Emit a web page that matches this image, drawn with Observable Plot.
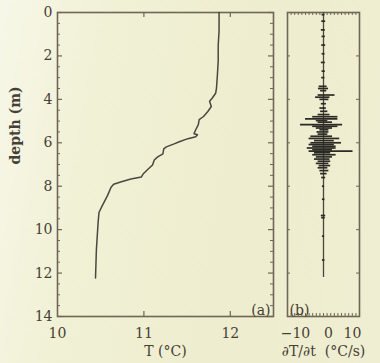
<!DOCTYPE html>
<html><head><meta charset="utf-8">
<script src="https://cdn.jsdelivr.net/npm/d3@7"></script>
<script src="https://cdn.jsdelivr.net/npm/@observablehq/plot@0.6"></script>
<style>
html,body{margin:0;padding:0;background:#f0efd2;}
#wrap{position:relative;width:380px;height:363px;overflow:hidden;
 background:linear-gradient(100deg,#f7f7e8 0%,#f1f1d6 25%,#eeedcf 60%,#efeed2 100%);}
#wrap svg{position:absolute;left:0;top:0;}
</style></head><body><div id="wrap"></div>
<script>
// Panel (a): temperature profile
const tempDepth = [0, 0.84, 1.53, 2.23, 2.93, 3.49, 3.72, 3.95, 4.09, 4.33, 4.56, 4.79, 4.93, 5.16, 5.40, 5.58, 5.63, 5.72, 5.81, 5.95, 6.05, 6.19, 6.28, 6.51, 6.65, 6.79, 7.02, 7.21, 7.44, 7.58, 7.67, 7.81, 7.91, 8.05, 8.42, 8.88, 9.21, 9.67, 10.93, 12.23];
const tempValue = [11.87, 11.87, 11.86, 11.86, 11.85, 11.84, 11.83, 11.79, 11.76, 11.78, 11.74, 11.69, 11.64, 11.63, 11.60, 11.58, 11.62, 11.60, 11.51, 11.41, 11.35, 11.26, 11.23, 11.22, 11.16, 11.12, 11.10, 11.05, 10.99, 10.97, 10.85, 10.73, 10.65, 10.62, 10.58, 10.52, 10.48, 10.47, 10.45, 10.44];

// Panel (b): dT/dt excursions (min / max at each depth)
const rateDepth = [0, 0.1, 0.4, 0.8, 1.1, 1.5, 1.9, 2.3, 2.7, 3.0, 3.4, 3.5, 3.6, 3.8, 3.9, 4.0, 4.2, 4.4, 4.55, 4.7, 4.8, 4.9, 4.98, 5.05, 5.16, 5.24, 5.32, 5.4, 5.5, 5.6, 5.7, 5.8, 5.9, 6.0, 6.08, 6.16, 6.24, 6.32, 6.38, 6.46, 6.55, 6.65, 6.75, 6.85, 6.95, 7.05, 7.15, 7.28, 7.42, 7.6, 8.0, 8.6, 9.35, 9.45, 10.3, 11.4, 12.2];
const rateLow  = [0, -0.4, -0.5, -0.6, -0.4, -0.5, -0.4, -0.6, -0.4, -0.5, -1.2, -1.4, -0.8, -1.5, -2.2, -1.0, -0.6, -1.0, -0.8, -1.5, -3.0, -5.0, -2.0, -1.5, -6.4, -3.0, -2.0, -1.0, -1.8, -1.5, -3.5, -4.0, -2.5, -3.5, -4.0, -3.0, -4.5, -3.0, -4.0, -2.5, -3.0, -2.0, -2.5, -1.5, -2.0, -1.2, -1.5, -1.0, -0.8, -0.5, -0.3, -0.3, -0.6, -0.5, -0.3, -0.3, 0];
const rateHigh = [0, 0.4, 0.6, 0.5, 0.5, 0.6, 0.4, 0.5, 0.5, 0.4, 1.0, 1.4, 0.9, 3.2, 1.8, 1.5, 0.8, 0.8, 1.2, 1.8, 4.0, 4.0, 1.2, 2.5, 5.3, 4.0, 2.5, 1.5, 1.5, 1.2, 2.5, 4.5, 3.0, 5.0, 3.0, 3.5, 3.5, 2.5, 8.2, 2.0, 3.5, 2.5, 1.8, 2.0, 1.5, 2.0, 1.2, 1.5, 1.0, 0.6, 0.3, 0.4, 0.6, 0.5, 0.3, 0.4, 0];

// ticks
const depthTicks = [0, 2, 4, 6, 8, 10, 12, 14];
const depthMinor = [0.5, 1, 1.5, 2.5, 3, 3.5, 4.5, 5, 5.5, 6.5, 7, 7.5, 8.5, 9, 9.5, 10.5, 11, 11.5, 12.5, 13, 13.5];
const tempTicks = [10, 11, 12];
const tempInnerTicks = [11, 12];
const rateTicks = [-10, 0, 10];
const rateMinor = [-9, -8, -7, -6, -5, -4, -3, -2, -1, 0, 1, 2, 3, 4, 5, 6, 7, 8, 9];

const W = 380, H = 363;
const ink = "#463f35", axisInk = "#6e6656", lineInk = "#4a473e", spikeInk = "#2b2a24";
const font = "DejaVu Serif";
const base = {
  width: W, height: H, marginTop: 12, marginBottom: 47,
  style: {background: "transparent", fontFamily: font, fontSize: "14px", color: ink, overflow: "visible"}
};

const temp = tempDepth.map((d, i) => ({d, t: tempValue[i]}));
const rate = rateDepth.map((d, i) => ({d, lo: rateLow[i], hi: rateHigh[i]}));

const frameW_a = W - 57 - 107, frameH = H - 12 - 47;
const a = Plot.plot({
  ...base, marginLeft: 57, marginRight: 107,
  x: {domain: [10, 12.5], axis: null},
  y: {domain: [0, 14], reverse: true, axis: null},
  marks: [
    Plot.tickY(depthMinor, {insetRight: frameW_a - 3, stroke: axisInk, strokeWidth: 1}),
    Plot.tickY(depthTicks, {insetRight: frameW_a - 5, stroke: axisInk, strokeWidth: 1.2}),
    Plot.tickY(depthMinor, {insetLeft: frameW_a - 3, stroke: axisInk, strokeWidth: 1}),
    Plot.tickY(depthTicks, {insetLeft: frameW_a - 5, stroke: axisInk, strokeWidth: 1.2}),
    Plot.tickX(tempInnerTicks, {insetBottom: frameH - 5, stroke: axisInk, strokeWidth: 1.2}),
    Plot.tickX(tempInnerTicks, {insetTop: frameH - 5, stroke: axisInk, strokeWidth: 1.2}),
    Plot.frame({stroke: axisInk, strokeWidth: 1.6}),
    Plot.axisY(depthTicks, {anchor: "left", tickSize: 0, tickPadding: 5, label: null, fontSize: 14}),
    Plot.axisX(tempTicks, {anchor: "bottom", tickSize: 0, tickPadding: 12, label: null, fontSize: 14}),
    Plot.line(temp, {x: "t", y: "d", stroke: lineInk, strokeWidth: 1.5}),
    Plot.text(["depth (m)"], {frameAnchor: "left", dx: -42, rotate: -90, fontWeight: "bold", fontSize: 14, fill: ink}),
    Plot.text(["T (°C)"], {frameAnchor: "bottom", dy: 39, fontSize: 14, fill: ink}),
    Plot.text(["(a)"], {frameAnchor: "bottom-right", dx: -3, dy: -2, textAnchor: "end", lineAnchor: "bottom", fontSize: 14, fill: ink})
  ]
});

const frameW_b = W - 287 - 21;
const b = Plot.plot({
  ...base, marginLeft: 287, marginRight: 21,
  x: {domain: [-10, 10], axis: null},
  y: {domain: [0, 14], reverse: true, axis: null},
  marks: [
    Plot.tickY(depthTicks, {insetRight: frameW_b - 3, stroke: axisInk, strokeWidth: 1}),
    Plot.tickY(depthTicks, {insetLeft: frameW_b - 3, stroke: axisInk, strokeWidth: 1}),
    Plot.tickX(rateMinor, {insetBottom: frameH - 3, stroke: axisInk, strokeWidth: 1}),
    Plot.tickX(rateMinor, {insetTop: frameH - 3, stroke: axisInk, strokeWidth: 1}),
    Plot.frame({stroke: axisInk, strokeWidth: 1.6}),
    Plot.axisX([rateTicks[0]], {anchor: "bottom", tickSize: 0, tickPadding: 12, label: null, dx: 8, fontSize: 14, tickFormat: d => "−" + Math.abs(d)}),
    Plot.axisX([rateTicks[1]], {anchor: "bottom", tickSize: 0, tickPadding: 12, label: null, dx: 5, fontSize: 14}),
    Plot.axisX([rateTicks[2]], {anchor: "bottom", tickSize: 0, tickPadding: 12, label: null, dx: -7, fontSize: 14}),
    Plot.ruleX([0], {y1: d3.min(rateDepth), y2: d3.max(rateDepth), stroke: lineInk, strokeWidth: 1.3}),
    Plot.ruleY(rate, {y: "d", x1: "lo", x2: "hi", stroke: spikeInk, strokeWidth: 1.7}),
    Plot.text(["∂T/∂t  (°C/s)"], {frameAnchor: "bottom", dy: 39, fontSize: 14, fill: ink}),
    Plot.text(["(b)"], {frameAnchor: "bottom-left", dx: 2, dy: -2, textAnchor: "start", lineAnchor: "bottom", fontSize: 14, fill: ink})
  ]
});

const wrap = document.getElementById("wrap");
wrap.appendChild(a);
wrap.appendChild(b);
</script></body></html>
